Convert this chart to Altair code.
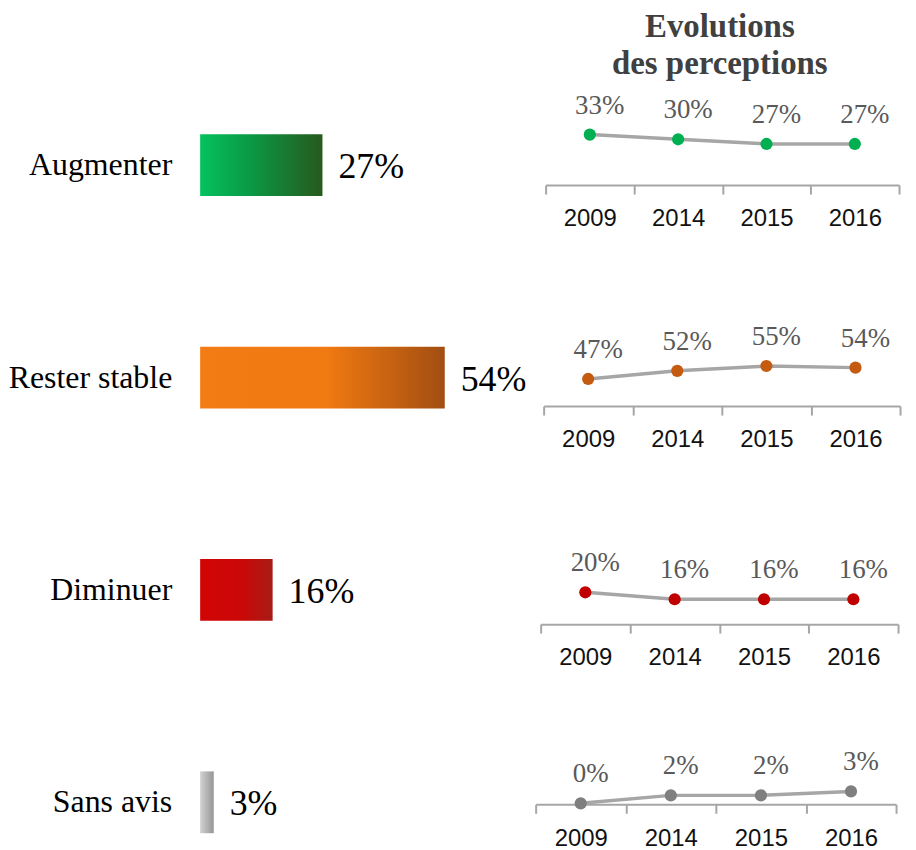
import altair as alt
import pandas as pd

# ---------------- data ----------------
categories = ["Augmenter", "Rester stable", "Diminuer", "Sans avis"]
current_pct = [27, 54, 16, 3]

years = ["2009", "2014", "2015", "2016"]
trend_augmenter = [33, 30, 27, 27]
trend_rester = [47, 52, 55, 54]
trend_diminuer = [20, 16, 16, 16]
trend_sans_avis = [0, 2, 2, 3]
trends = [trend_augmenter, trend_rester, trend_diminuer, trend_sans_avis]

# ---------------- styles ----------------
W, H = 904, 834
SERIF = "Liberation Serif"
SANS = "Liberation Sans"

bar_gradients = [
    [(0, "#05C25D"), (0.4, "#0A9A45"), (1, "#27591D")],
    [(0, "#F47C14"), (0.52, "#F07911"), (1, "#A24E12")],
    [(0, "#D20404"), (0.55, "#CC0707"), (1, "#A61C15")],
    [(0, "#D2D2D2"), (1, "#959595")],
]
point_colors = ["#00B050", "#C55A11", "#C00000", "#7F7F7F"]

# scale ranges (plot coordinates)
bar_x = alt.Scale(domain=[0, 100], range=[193, 648], nice=False)
bar_y = alt.Scale(type="band", domain=categories, range=[125, 827],
                  paddingInner=0.709, paddingOuter=0)
row_x_ranges = [[540, 895], [538, 896], [535, 894], [530, 892]]
row_y_ranges = [[177, 20.3], [447.1, 284.6], [620, 445], [797, 397]]
row_axis_y = [176, 398, 617, 798]

# ---------------- left: bars ----------------
bars_df = pd.DataFrame({"cat": categories, "pct": current_pct})
base = alt.Chart(bars_df)

bar_layers = []
for cat, stops in zip(categories, bar_gradients):
    grad = alt.Gradient(
        gradient="linear", x1=0, x2=1, y1=0, y2=0,
        stops=[alt.GradientStop(offset=o, color=c) for o, c in stops],
    )
    bar_layers.append(
        base.transform_filter(alt.datum.cat == cat)
        .mark_bar(color=grad)
        .encode(
            x=alt.X("pct:Q", scale=bar_x, axis=None),
            y=alt.Y("cat:N", scale=bar_y, axis=None, sort=categories),
        )
    )

cat_text = base.mark_text(
    align="right", baseline="alphabetic", dx=-28, dy=10,
    font=SERIF, fontSize=32, color="#000000",
).encode(
    x=alt.X(datum=0, type="quantitative", scale=bar_x, axis=None),
    y=alt.Y("cat:N", scale=bar_y, axis=None, sort=categories),
    text="cat:N",
)

val_text = base.transform_calculate(lbl="datum.pct + '%'").mark_text(
    align="left", baseline="alphabetic", dx=16, dy=13,
    font=SERIF, fontSize=36, color="#000000",
).encode(
    x=alt.X("pct:Q", scale=bar_x, axis=None),
    y=alt.Y("cat:N", scale=bar_y, axis=None, sort=categories),
    text="lbl:N",
)

bars_group = alt.layer(*bar_layers, cat_text, val_text)

# ---------------- right: trend lines ----------------
rows = []
for i, vals in enumerate(trends):
    df = pd.DataFrame({"year": years, "v": vals})
    xs = alt.Scale(type="band", domain=years, range=row_x_ranges[i],
                   paddingInner=0, paddingOuter=0)
    ys = alt.Scale(domain=[0, 100], range=row_y_ranges[i], nice=False, zero=False)
    ax = alt.Axis(
        orient="bottom", offset=row_axis_y[i] - H, title=None,
        labelFont=SANS, labelFontSize=24, labelColor="#111111",
        labelPadding=13, labelAngle=0,
        domainColor="#A6A6A6", domainWidth=2,
        tickColor="#A6A6A6", tickWidth=2, tickSize=9, tickBand="extent",
        grid=False,
    )
    b = alt.Chart(df).encode(
        x=alt.X("year:O", scale=xs, axis=ax),
        y=alt.Y("v:Q", scale=ys, axis=None),
    )
    line = b.mark_line(color="#A6A6A6", strokeWidth=3.5)
    pts = b.mark_circle(size=150, color=point_colors[i], opacity=1)
    txt = b.transform_calculate(lbl="datum.v + '%'").mark_text(
        align="center", baseline="alphabetic", dx=10, dy=-21,
        font=SERIF, fontSize=27, color="#595959",
    ).encode(text="lbl:N")
    rows.append(alt.layer(line, pts, txt))

chart = (
    alt.layer(bars_group, *rows)
    .resolve_scale(x="independent", y="independent")
    .resolve_axis(x="independent", y="independent")
    .properties(
        width=W, height=H, padding=0, background="white",
        title=alt.TitleParams(
            text=["Evolutions", "des perceptions"],
            font=SERIF, fontSize=33, fontWeight="bold", color="#404040",
            anchor="middle", frame="group", dx=263, offset=-71, lineHeight=37,
        ),
    )
    .configure_view(stroke=None)
)

chart.save("out.html", embed_options={"renderer": "svg", "actions": False})
